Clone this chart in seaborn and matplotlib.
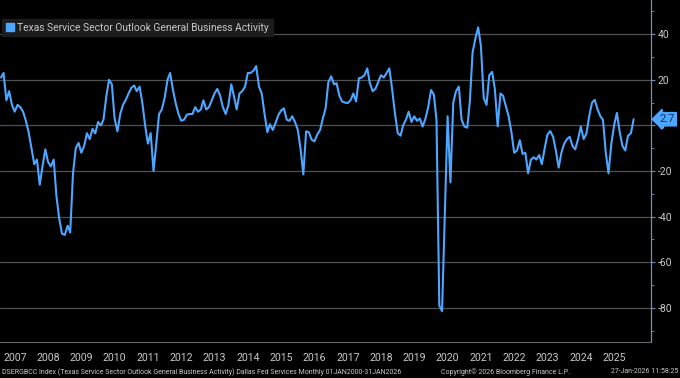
import pandas as pd
import matplotlib
matplotlib.use("Agg")
import matplotlib.pyplot as plt
import matplotlib.dates as mdates
from matplotlib.ticker import FixedLocator, FixedFormatter, MultipleLocator, NullFormatter
from matplotlib.patches import Patch
import seaborn as sns

# monthly readings of the index (Jan..Dec)
v2007 = [21, 23, 11, 15, 9, 6, 9, 8, 6, 2, -3, -10]
v2008 = [-17, -15, -26, -18, -10.5, -16, -18, -15, -31, -41, -47.5, -48]
v2009 = [-44, -47, -21, -10, -7.7, -12, -9, -3.4, -6, -1.5, -3.5, 1.5]
v2010 = [0, 2.5, 12.7, 20, 18, 3, -2.6, 5, 9, 11.2, 14, 16.5]
v2011 = [17.5, 15, 17, 10, 0, -8, -3.4, -20, -8, 5, 7, 12]
v2012 = [20, 23, 15.6, 9.8, 5, 2, 2.5, 4.7, 5, 5, 8, 6]
v2013 = [7, 11, 7, 8, 11, 14, 16, 13, 8, 5, 9, 18]
v2014 = [12.5, 7, 14, 15, 17, 23, 23, 24, 26, 17, 14, 5]
v2015 = [-3, 0.5, -2, 1, 4.5, 6.5, 7.5, 2.5, 2, 4, 1.5, -2]
v2016 = [-10.7, -21.5, -2.6, -3, -6.3, -7, -4, -2, 3, 7.6, 19, 21.5]
v2017 = [18, 18.5, 13, 10.5, 10, 9.8, 11, 14, 10.5, 20.7, 21, 22]
v2018 = [25, 18.5, 15, 16, 19, 22, 21, 23, 25, 15.6, 5.4, -3.4]
v2019 = [-4.5, 0, 2.5, 6, 1.5, 4, 2, 3, -0.5, 3, 8, 15.5]
v2020 = [13.5, 2.5, -79, -81.5, -38, 4, -25, 10, 15, 17, 2.5, -0.5]
v2021 = [-1, 10, 32, 38, 43, 35, 12, 9, 22, 23.5, 16, -0.4]
v2022 = [14, 13, 8.5, 4, -3, -12, -11, -6.5, -12.5, -12, -21, -15]
v2023 = [-14, -15, -13, -17, -10, -4, -2.5, -5, -11, -18.5, -12, -8]
v2024 = [-6, -5, -9, -10.5, -6, -0.5, -6, -3.5, 4, 10, 11.2, 7]
v2025 = [4, 2.5, -12, -21, -8, 0, 5.5, -3, -9, -11, -4.5, -3.5]
v2026 = [2.7]

values = (v2007 + v2008 + v2009 + v2010 + v2011 + v2012 + v2013 + v2014 + v2015
          + v2016 + v2017 + v2018 + v2019 + v2020 + v2021 + v2022 + v2023 + v2024
          + v2025 + v2026)
dates = pd.date_range("2007-01-31", periods=len(values), freq="ME")
df = pd.DataFrame({"date": dates, "value": values})

year_labels = [str(y) for y in range(2007, 2026)]
y_ticks = [40, 20, 0, -20, -40, -60, -80]
last_value = v2026[-1]

series_name = "Texas Service Sector Outlook General Business Activity"
footer_left = ("DSERGBCC Index (Texas Service Sector Outlook General Business Activity) "
               "Dallas Fed Services Monthly 01JAN2000-31JAN2026")
footer_mid = "Copyright\u00a9 2026 Bloomberg Finance L.P."
footer_right = "27-Jan-2026 11:58:25"

line_color = "#4da6ff"
grid_color = "#505050"
text_color = "#c8c8c8"
axis_color = "#6f8fb8"

sns.set_theme(style="dark")
plt.rcParams["font.family"] = ["Roboto", "DejaVu Sans"]
plt.rcParams["axes.unicode_minus"] = False

fig = plt.figure(figsize=(6.8, 3.78), dpi=100, facecolor="black")
ax = fig.add_axes([0, 36 / 378, 651 / 680, 342 / 378])
ax.set_facecolor("black")

sns.lineplot(data=df, x="date", y="value", ax=ax, color=line_color, linewidth=1.5)

ax.set_xlim(pd.Timestamp("2007-01-20"), pd.Timestamp("2026-08-09"))
ax.set_ylim(-95, 55)
ax.set_xlabel("")
ax.set_ylabel("")

# y axis on the right
ax.yaxis.tick_right()
ax.set_yticks(y_ticks)
ax.yaxis.set_minor_locator(MultipleLocator(10))
ax.yaxis.grid(True, which="major", color=grid_color, linewidth=0.9)
ax.xaxis.grid(False)
ax.tick_params(axis="y", which="major", direction="out", length=3, width=0.8,
               color=axis_color, labelcolor=text_color, labelsize=7.5, pad=2)
ax.tick_params(axis="y", which="minor", direction="out", length=2, width=0.6,
               color=axis_color)

# year separators + centred year labels
ax.xaxis.set_major_locator(mdates.YearLocator())
ax.xaxis.set_major_formatter(NullFormatter())
mid_years = [mdates.date2num(pd.Timestamp(f"{y}-07-01")) for y in year_labels]
ax.xaxis.set_minor_locator(FixedLocator(mid_years))
ax.xaxis.set_minor_formatter(FixedFormatter(year_labels))
ax.tick_params(axis="x", which="major", direction="out", length=16, width=0.8,
               color="#5a5a5a")
ax.tick_params(axis="x", which="minor", length=0, pad=8, labelsize=7.6,
               labelcolor=text_color)

for side in ["top", "left"]:
    ax.spines[side].set_visible(False)
ax.spines["right"].set_color(axis_color)
ax.spines["right"].set_linewidth(0.9)
ax.spines["bottom"].set_color("#6a6a6a")
ax.spines["bottom"].set_linewidth(0.8)

# legend box
handle = Patch(facecolor=line_color, edgecolor=line_color)
leg = ax.legend([handle], [series_name], loc="upper left",
                bbox_to_anchor=(0.003, 0.944), fontsize=7.4, frameon=True,
                handlelength=0.8, handleheight=0.8, handletextpad=0.35,
                borderpad=0.35, borderaxespad=0, fancybox=False)
leg.get_frame().set_facecolor("#1c1c1c")
leg.get_frame().set_edgecolor("#1c1c1c")
leg.get_frame().set_alpha(1)
for t in leg.get_texts():
    t.set_color(text_color)

# last value tag
ax.annotate(f"{last_value:.1f}", xy=(1.0, last_value),
            xycoords=("axes fraction", "data"), xytext=(6, 0),
            textcoords="offset points", ha="left", va="center",
            fontsize=8, color="#0d2f66", annotation_clip=False, zorder=5,
            bbox=dict(boxstyle="larrow,pad=0.15", fc=line_color, ec=line_color))

# footer
fig.text(0.003, 0.016, footer_left, color=text_color, fontsize=5.0, va="center", ha="left")
fig.text(0.648, 0.016, footer_mid, color=text_color, fontsize=5.0, va="center", ha="left")
fig.text(0.997, 0.016, footer_right, color=text_color, fontsize=5.0, va="center", ha="right")

fig.savefig("out.png", dpi=100, facecolor="black")
